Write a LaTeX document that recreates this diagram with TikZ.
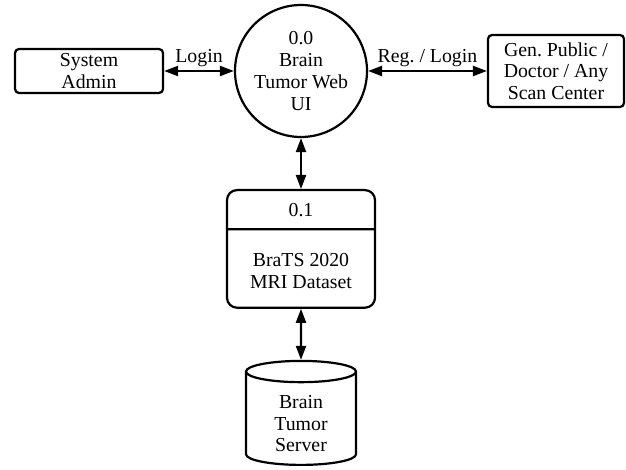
\documentclass[tikz,border=0pt]{standalone}
\usepackage{fontspec}
\setmainfont{Liberation Serif}
\usetikzlibrary{shapes.geometric, shapes.multipart, arrows.meta, positioning}

\begin{document}
\frenchspacing
\begin{tikzpicture}[
    x=1pt, y=-1pt,
    font=\fontsize{19.8}{21.7}\selectfont,
    entity/.style={rectangle, rounded corners=4pt, draw, line width=2.2pt, align=center, inner sep=2pt},
    process/.style={circle, draw, line width=2.2pt, align=center, minimum size=132pt, inner sep=0pt},
    store/.style={rectangle split, rectangle split parts=2, draw, rounded corners=10pt, line width=2.2pt, align=center, minimum width=148pt, inner xsep=0pt, inner ysep=0pt},
    server/.style={cylinder, shape border rotate=90, aspect=0.4, draw, line width=2.2pt, minimum width=110pt, minimum height=104pt, align=center, inner sep=0pt},
    arrow/.style={{Triangle[length=14pt,width=10pt]}-{Triangle[length=14pt,width=10pt]}, line width=2.2pt}
]
\useasboundingbox (0,0) rectangle (626,470);

% Process and external entities
\node[process] (webui) at (301,71) {0.0\\Brain\\Tumor Web\\UI};
\node[entity, minimum width=148pt, minimum height=44pt] (admin) at (89,71) {System\\Admin};
\node[entity, minimum width=136pt, minimum height=72pt] (public) at (556,71) {Gen. Public /\\Doctor / Any\\Scan Center};

% Data store and server
\node[store, anchor=north] (dataset) at (301,189)
    {\rule[-12pt]{0pt}{37pt}0.1
     \nodepart{two}\rule{0pt}{36pt}BraTS 2020\\MRI Dataset\rule[-18.5pt]{0pt}{18.5pt}};
\node[server, anchor=south] (server) at (301,466) {\rule{0pt}{23pt}Brain\\Tumor\\Server};

% Flows
\draw[arrow] (admin) -- node[above] {Login} (webui);
\draw[arrow] (webui) -- node[above] {Reg. / Login} (public);
\draw[arrow] (webui) -- (dataset);
\draw[arrow] (dataset) -- (server);

\end{tikzpicture}
\end{document}
